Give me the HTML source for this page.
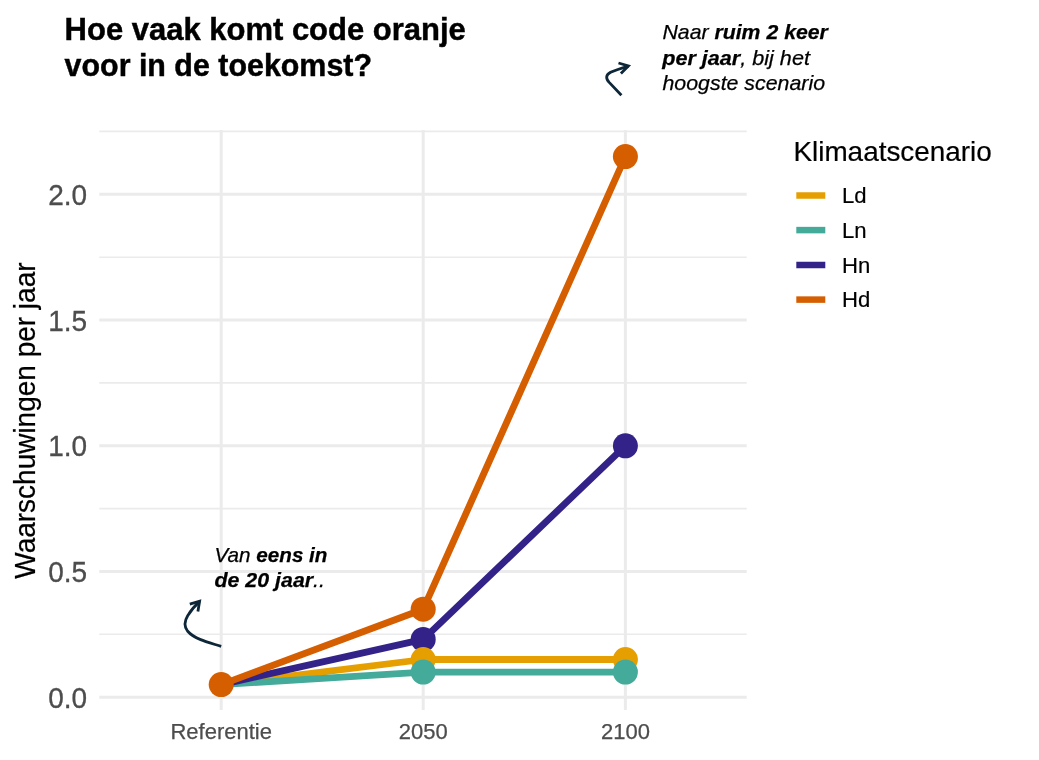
<!DOCTYPE html>
<html lang="nl">
<head>
<meta charset="utf-8">
<title>Hoe vaak komt code oranje voor in de toekomst?</title>
<style>
html,body{margin:0;padding:0;background:#fff;}
body{width:1039px;height:760px;overflow:hidden;font-family:"Liberation Sans",sans-serif;}
svg{display:block;}
text{font-family:"Liberation Sans",sans-serif;}
.grid-major{stroke:#ebebeb;stroke-width:3;fill:none;}
.grid-minor{stroke:#ebebeb;stroke-width:1.6;fill:none;}
.ytick{font-size:28px;fill:#4d4d4d;text-anchor:end;stroke:#4d4d4d;stroke-width:0.3;}
.xtick{font-size:22px;fill:#4d4d4d;text-anchor:middle;stroke:#4d4d4d;stroke-width:0.25;}
.title{font-size:30.6px;font-weight:bold;fill:#000;stroke:#000;stroke-width:0.45;}
.axtitle{font-size:28px;fill:#000;text-anchor:middle;stroke:#000;stroke-width:0.2;}
.legtitle{font-size:27.9px;fill:#000;stroke:#000;stroke-width:0.2;}
.leg{font-size:22.1px;fill:#000;stroke:#000;stroke-width:0.2;}
.ann{font-size:21.1px;font-style:italic;fill:#000;stroke:#000;stroke-width:0.25;}
.ann tspan.b{font-weight:bold;}
.ln{fill:none;stroke-width:6.8;stroke-linejoin:round;stroke-linecap:butt;}
.arrow{fill:none;stroke:#0d2638;stroke-width:2.8;stroke-linecap:butt;stroke-linejoin:miter;}
</style>
</head>
<body>
<svg width="1039" height="760" viewBox="0 0 1039 760">
<rect width="1039" height="760" fill="#ffffff"/>

<!-- title -->
<text class="title" x="64.6" y="39.7" textLength="401.2" lengthAdjust="spacingAndGlyphs">Hoe vaak komt code oranje</text>
<text class="title" x="64.6" y="75.8" textLength="307.4" lengthAdjust="spacingAndGlyphs">voor in de toekomst?</text>

<!-- minor grid -->
<g class="grid-minor">
<line x1="99.3" x2="746.7" y1="131.4" y2="131.4"/>
<line x1="99.3" x2="746.7" y1="257.2" y2="257.2"/>
<line x1="99.3" x2="746.7" y1="382.9" y2="382.9"/>
<line x1="99.3" x2="746.7" y1="508.6" y2="508.6"/>
<line x1="99.3" x2="746.7" y1="634.3" y2="634.3"/>
</g>
<!-- major grid -->
<g class="grid-major">
<line x1="99.3" x2="746.7" y1="194.3" y2="194.3"/>
<line x1="99.3" x2="746.7" y1="320.0" y2="320.0"/>
<line x1="99.3" x2="746.7" y1="445.8" y2="445.8"/>
<line x1="99.3" x2="746.7" y1="571.5" y2="571.5"/>
<line x1="99.3" x2="746.7" y1="697.2" y2="697.2"/>
<line x1="221.2" x2="221.2" y1="130" y2="710"/>
<line x1="423.2" x2="423.2" y1="130" y2="710"/>
<line x1="625.4" x2="625.4" y1="130" y2="710"/>
</g>

<!-- y tick labels -->
<text class="ytick" transform="translate(87.2 204.8) scale(1 1.06)">2.0</text>
<text class="ytick" transform="translate(87.2 330.5) scale(1 1.06)">1.5</text>
<text class="ytick" transform="translate(87.2 456.3) scale(1 1.06)">1.0</text>
<text class="ytick" transform="translate(87.2 582.0) scale(1 1.06)">0.5</text>
<text class="ytick" transform="translate(87.2 707.7) scale(1 1.06)">0.0</text>

<!-- x tick labels -->
<text class="xtick" x="221.2" y="739.2">Referentie</text>
<text class="xtick" x="423.2" y="739.2">2050</text>
<text class="xtick" x="625.4" y="739.2">2100</text>

<!-- y axis title -->
<text class="axtitle" transform="translate(35.3 420.6) rotate(-90) scale(1 1.05)">Waarschuwingen per jaar</text>

<!-- lines -->
<polyline class="ln" stroke="#e69f00" points="221.2,684.6 423.2,659.5 625.4,659.5"/>
<polyline class="ln" stroke="#44aa99" points="221.2,684.6 423.2,672.1 625.4,672.1"/>
<polyline class="ln" stroke="#332288" points="221.2,684.6 423.2,639.4 625.4,445.8"/>
<polyline class="ln" stroke="#d55e00" points="221.2,684.6 423.2,609.2 625.4,156.6"/>

<!-- points -->
<g>
<circle cx="423.2" cy="609.2" r="12.5" fill="#d55e00"/>
<circle cx="423.2" cy="639.4" r="12.5" fill="#332288"/>
<circle cx="423.2" cy="659.5" r="12.5" fill="#e69f00"/>
<circle cx="423.2" cy="672.1" r="12.5" fill="#44aa99"/>
<circle cx="625.4" cy="659.5" r="12.5" fill="#e69f00"/>
<circle cx="625.4" cy="672.1" r="12.5" fill="#44aa99"/>
<circle cx="625.4" cy="445.8" r="12.5" fill="#332288"/>
<circle cx="625.4" cy="156.6" r="12.5" fill="#d55e00"/>
<circle cx="221.2" cy="684.6" r="12.5" fill="#d55e00"/>
</g>

<!-- legend -->
<text class="legtitle" x="793.4" y="161.4">Klimaatscenario</text>
<g stroke-width="6.5">
<line x1="796.3" x2="825.3" y1="195.5" y2="195.5" stroke="#e69f00"/>
<line x1="796.3" x2="825.3" y1="230.1" y2="230.1" stroke="#44aa99"/>
<line x1="796.3" x2="825.3" y1="265" y2="265" stroke="#332288"/>
<line x1="796.3" x2="825.3" y1="299.6" y2="299.6" stroke="#d55e00"/>
</g>
<text class="leg" x="842" y="203">Ld</text>
<text class="leg" x="842" y="237.6">Ln</text>
<text class="leg" x="842" y="272.5">Hn</text>
<text class="leg" x="842" y="306.8">Hd</text>

<!-- annotations -->
<text class="ann" x="662.5" y="39.1" textLength="165.4" lengthAdjust="spacingAndGlyphs">Naar <tspan class="b">ruim 2 keer</tspan></text>
<text class="ann" x="662.2" y="65.2" textLength="147.7" lengthAdjust="spacingAndGlyphs"><tspan class="b">per jaar</tspan>, bij het</text>
<text class="ann" x="662.5" y="90.3" textLength="162.5" lengthAdjust="spacingAndGlyphs">hoogste scenario</text>

<text class="ann" x="214.5" y="561.7" textLength="113" lengthAdjust="spacingAndGlyphs">Van <tspan class="b">eens in</tspan></text>
<text class="ann" x="214.5" y="587" textLength="110.5" lengthAdjust="spacingAndGlyphs"><tspan class="b">de 20 jaar</tspan>..</text>

<!-- arrows -->
<path class="arrow" d="M621.4 95.2 L609.2 82.4 C605.6 78.4 605.6 75 610.6 72.3 C615.5 69.9 622 68 628.4 66.3"/>
<path class="arrow" d="M618.5 63 L628.4 65.9 L620.9 73.4"/>

<path class="arrow" d="M221.2 646.4 C212 643.5 205 641.5 200.6 639.6 C194 637 190 634 187.5 631 C184 626.5 184.5 621 187.8 615.6 C191 610 195 605.6 199.6 601.6"/>
<path class="arrow" d="M189.8 604.2 L199.6 601.2 L197.9 611.4"/>
</svg>
</body>
</html>
